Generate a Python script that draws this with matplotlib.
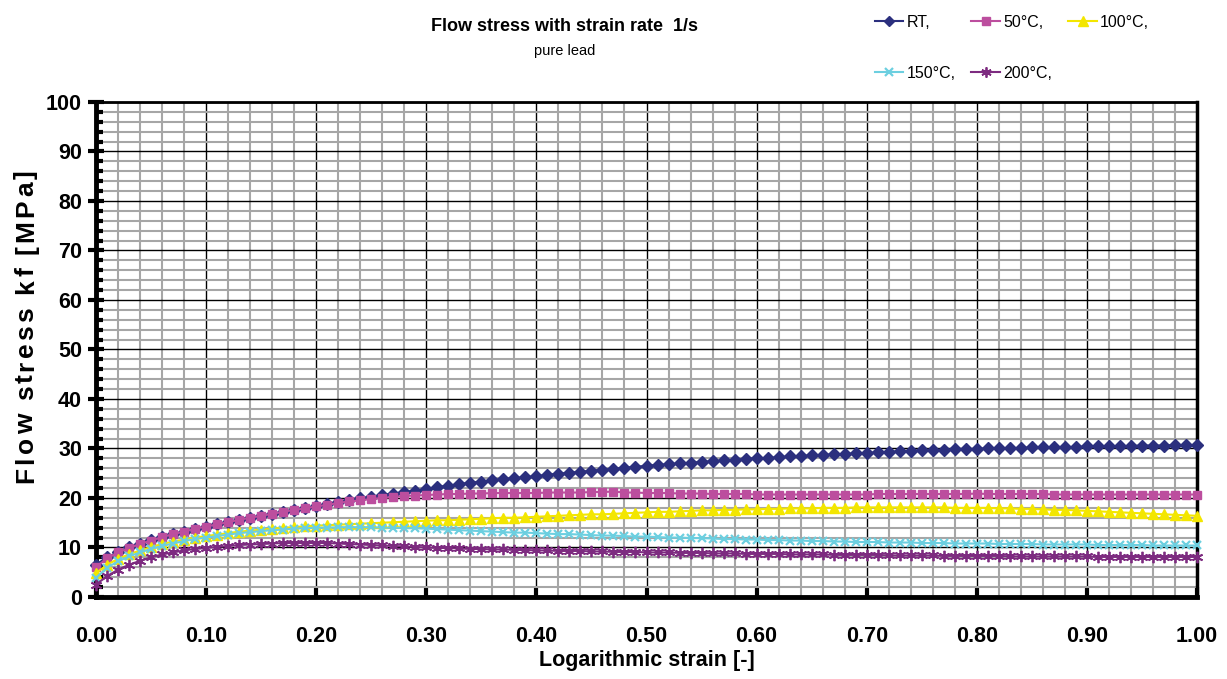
import numpy as np
import matplotlib
matplotlib.use("Agg")
import matplotlib.pyplot as plt
from matplotlib.ticker import MultipleLocator, FormatStrFormatter
from matplotlib.font_manager import FontProperties

# logarithmic strain, one reading every 0.01
strain = np.linspace(0.0, 1.0, 101)

kf_rt = [6.5, 8.0, 9.0, 10.0, 10.8, 11.5, 12.1, 12.7, 13.2, 13.7,
         14.2, 14.7, 15.1, 15.6, 16.0, 16.4, 16.8, 17.2, 17.6, 17.9,
         18.3, 18.7, 19.1, 19.5, 19.9, 20.2, 20.6, 20.9, 21.2, 21.5,
         21.8, 22.2, 22.5, 22.8, 23.1, 23.3, 23.6, 23.8, 24.0, 24.2,
         24.4, 24.7, 24.9, 25.1, 25.3, 25.5, 25.7, 25.9, 26.1, 26.3,
         26.5, 26.7, 26.8, 27.0, 27.1, 27.3, 27.4, 27.6, 27.7, 27.9,
         28.0, 28.1, 28.2, 28.4, 28.5, 28.6, 28.7, 28.8, 28.9, 29.0,
         29.1, 29.2, 29.3, 29.4, 29.5, 29.6, 29.6, 29.7, 29.8, 29.8,
         29.9, 30.0, 30.0, 30.1, 30.1, 30.2, 30.2, 30.3, 30.3, 30.3,
         30.4, 30.4, 30.4, 30.5, 30.5, 30.6, 30.6, 30.6, 30.7, 30.7,
         30.7]

kf_50 = [6.0, 7.8, 9.0, 9.9, 10.7, 11.4, 12.1, 12.7, 13.2, 13.8,
         14.2, 14.7, 15.1, 15.6, 16.0, 16.4, 16.8, 17.2, 17.6, 17.9,
         18.3, 18.6, 19.0, 19.3, 19.5, 19.8, 20.0, 20.2, 20.4, 20.5,
         20.6, 20.7, 20.8, 20.8, 20.9, 20.9, 21.0, 21.0, 21.0, 21.0,
         21.0, 21.1, 21.1, 21.1, 21.1, 21.2, 21.2, 21.3, 21.1, 21.1,
         21.0, 21.0, 21.0, 20.9, 20.9, 20.9, 20.8, 20.8, 20.8, 20.8,
         20.7, 20.7, 20.7, 20.7, 20.7, 20.7, 20.7, 20.7, 20.7, 20.7,
         20.7, 20.8, 20.8, 20.8, 20.8, 20.8, 20.8, 20.8, 20.8, 20.8,
         20.9, 20.8, 20.8, 20.8, 20.8, 20.8, 20.8, 20.7, 20.7, 20.7,
         20.7, 20.7, 20.7, 20.7, 20.7, 20.7, 20.7, 20.7, 20.7, 20.7,
         20.7]

kf_100 = [4.8, 6.5, 7.7, 8.6, 9.4, 10.1, 10.7, 11.2, 11.6, 12.0,
          12.3, 12.6, 12.9, 13.2, 13.4, 13.6, 13.8, 14.0, 14.1, 14.3,
          14.4, 14.5, 14.6, 14.7, 14.8, 14.9, 15.0, 15.1, 15.2, 15.3,
          15.4, 15.5, 15.5, 15.6, 15.7, 15.8, 15.9, 16.0, 16.0, 16.1,
          16.2, 16.3, 16.4, 16.5, 16.6, 16.7, 16.7, 16.8, 16.9, 17.0,
          17.1, 17.2, 17.2, 17.3, 17.4, 17.5, 17.5, 17.6, 17.6, 17.7,
          17.7, 17.8, 17.8, 17.9, 17.9, 17.9, 18.0, 18.0, 18.0, 18.1,
          18.1, 18.1, 18.1, 18.1, 18.1, 18.1, 18.1, 18.1, 18.0, 18.0,
          18.0, 18.0, 17.9, 17.9, 17.8, 17.8, 17.7, 17.6, 17.6, 17.5,
          17.4, 17.3, 17.2, 17.1, 17.0, 16.9, 16.8, 16.7, 16.6, 16.5,
          16.4]

kf_150 = [3.8, 5.9, 7.2, 8.2, 9.0, 9.7, 10.3, 10.8, 11.3, 11.7,
          12.0, 12.3, 12.6, 12.9, 13.1, 13.3, 13.5, 13.6, 13.8, 13.9,
          14.0, 14.0, 14.1, 14.1, 14.1, 14.1, 14.0, 14.0, 13.9, 13.9,
          13.8, 13.7, 13.6, 13.5, 13.4, 13.3, 13.2, 13.1, 13.0, 13.0,
          12.9, 12.8, 12.7, 12.7, 12.6, 12.5, 12.4, 12.4, 12.3, 12.2,
          12.2, 12.1, 12.0, 12.0, 11.9, 11.9, 11.8, 11.7, 11.7, 11.6,
          11.6, 11.5, 11.5, 11.4, 11.4, 11.3, 11.3, 11.2, 11.2, 11.1,
          11.1, 11.1, 11.0, 11.0, 11.0, 10.9, 10.9, 10.9, 10.8, 10.8,
          10.8, 10.8, 10.7, 10.7, 10.7, 10.7, 10.6, 10.6, 10.6, 10.6,
          10.6, 10.5, 10.5, 10.5, 10.5, 10.5, 10.4, 10.4, 10.4, 10.4,
          10.4]

kf_200 = [2.5, 4.2, 5.5, 6.5, 7.3, 8.0, 8.6, 9.0, 9.4, 9.7,
          9.9, 10.1, 10.3, 10.5, 10.6, 10.7, 10.8, 10.9, 10.9, 10.9,
          10.9, 10.9, 10.8, 10.7, 10.6, 10.5, 10.4, 10.3, 10.2, 10.1,
          10.0, 9.9, 9.9, 9.8, 9.7, 9.7, 9.6, 9.6, 9.5, 9.5,
          9.4, 9.4, 9.3, 9.3, 9.3, 9.2, 9.2, 9.1, 9.1, 9.1,
          9.0, 9.0, 9.0, 8.9, 8.9, 8.9, 8.8, 8.8, 8.8, 8.7,
          8.7, 8.7, 8.7, 8.6, 8.6, 8.6, 8.6, 8.5, 8.5, 8.5,
          8.5, 8.5, 8.4, 8.4, 8.4, 8.4, 8.4, 8.3, 8.3, 8.3,
          8.3, 8.3, 8.3, 8.2, 8.2, 8.2, 8.2, 8.2, 8.2, 8.2,
          8.2, 8.1, 8.1, 8.1, 8.1, 8.1, 8.1, 8.1, 8.1, 8.1,
          8.1]

labels = ["RT,", "50°C,", "100°C,", "150°C,", "200°C,"]

plt.rcParams['font.family'] = ['Liberation Sans', 'DejaVu Sans']

W, H = 1227, 679
fig = plt.figure(figsize=(W / 100, H / 100), dpi=100, facecolor='white')
ax = fig.add_axes([0.0782, 0.1208, 0.8974, 0.729])

styles = [
  dict(color='#2B2F7E', marker='D', markersize=5.8),
  dict(color='#BC4E9E', marker='s', markersize=6.4),
  dict(color='#F3E600', marker='^', markersize=7.3),
  dict(color='#6CCFE0', marker='x', markersize=6.3, markeredgewidth=1.6),
  dict(color='#7D2B80', marker=(6, 2, 0), markersize=8.2, markeredgewidth=1.3),
]
series = [kf_rt, kf_50, kf_100, kf_150, kf_200]

handles = []
for vals, lab, st in zip(series, labels, styles):
  h, = ax.plot(strain, vals, linewidth=1.5, label=lab, clip_on=False, zorder=3, **st)
  handles.append(h)

ax.set_xlim(0, 1.0)
ax.set_ylim(0, 100)

ax.xaxis.set_major_locator(MultipleLocator(0.1))
ax.xaxis.set_minor_locator(MultipleLocator(0.02))
ax.yaxis.set_major_locator(MultipleLocator(10))
ax.yaxis.set_minor_locator(MultipleLocator(2))
ax.xaxis.set_major_formatter(FormatStrFormatter('%.2f'))

ax.grid(which='minor', color='#A6A6A6', linewidth=1.5, zorder=1)
ax.grid(which='major', color='black', linewidth=1.0, zorder=2)
ax.set_axisbelow(True)

ax.tick_params(axis='x', which='major', direction='in', length=7, width=3,
               labelsize=15.5, pad=21)
ax.tick_params(axis='x', which='minor', length=0)
ax.tick_params(axis='y', which='major', direction='inout', length=12, width=3,
               labelsize=15.5, pad=4)
ax.tick_params(axis='y', which='minor', direction='in', length=5, width=3)
for lbl in ax.get_xticklabels() + ax.get_yticklabels():
  lbl.set_fontweight('bold')

ax.spines['bottom'].set_linewidth(3.5)
ax.spines['left'].set_linewidth(3.5)
ax.spines['top'].set_linewidth(2)
ax.spines['right'].set_linewidth(2.5)

ax.set_xlabel('Logarithmic strain [-]', fontsize=15.5, fontweight='bold', labelpad=2)

# y label drawn letter by letter to get the wide letter spacing of the original
ylab = 'Flow stress kf [MPa]'
fp = FontProperties(family=['Liberation Sans', 'DejaVu Sans'], weight='bold', size=19)
rend = fig.canvas.get_renderer()
def text_w(s):
  return rend.get_text_width_height_descent(s, fp, ismath=False)[0]
base = text_w('x')
offsets = [text_w(ylab[:i] + 'x') - base for i in range(len(ylab))]
full = text_w(ylab)
span = 313.0
gap = (span - full) / (len(ylab) - 1)
y_start = (H - 326.5) - span / 2
x_base = 33.0
for i, ch in enumerate(ylab):
  if ch == ' ':
    continue
  fig.text(x_base / W, (y_start + offsets[i] + i * gap) / H, ch, fontproperties=fp,
           rotation=90, rotation_mode='anchor', ha='left', va='baseline')

fig.text(0.46, 0.961, 'Flow stress with strain rate  1/s', ha='center', va='center',
         fontsize=13, fontweight='bold')
fig.text(0.46, 0.925, 'pure lead', ha='center', va='center', fontsize=10.5)

order = [0, 3, 1, 4, 2]
fig.legend([handles[i] for i in order], [labels[i] for i in order],
           ncol=3, loc='upper left', bbox_to_anchor=(0.701, 0.999),
           frameon=False, fontsize=11.5, handlelength=1.8, handletextpad=0.2,
           labelspacing=2.25, columnspacing=1.0, markerscale=0.9)

fig.savefig('out.png', dpi=100, facecolor='white')
